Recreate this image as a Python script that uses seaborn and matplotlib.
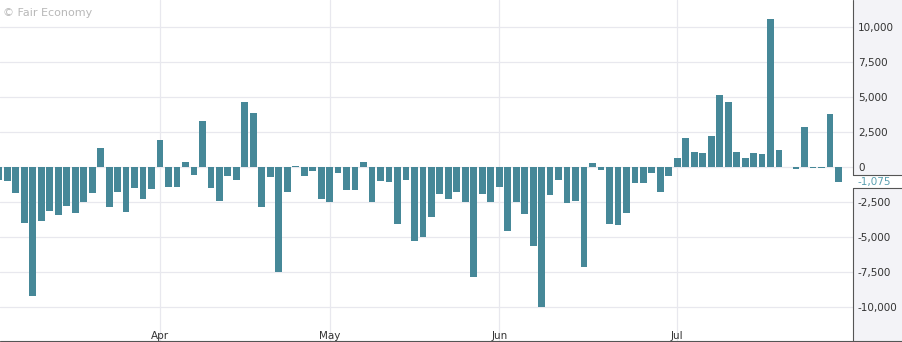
import matplotlib
matplotlib.use("Agg")
import matplotlib.pyplot as plt
import matplotlib.transforms as mtransforms
from matplotlib.lines import Line2D
from matplotlib.patches import Rectangle
import seaborn as sns
import pandas as pd

# ---- data -------------------------------------------------------------
values = [
    -950, -1000, -1860, -4000, -9210, -3855, -3150, -3460, -2785, -3330,
    -2550, -1880, 1310, -2855, -1830, -3240, -1500, -2330, -1570, 1900,
    -1430, -1430, 330, -600, 3285, -1500, -2475, -670, -950, 4640,
    3810, -2855, -715, -7500, -1810, 40, -640, -285, -2330, -2500,
    -430, -1665, -1665, 330, -2500, -1050, -1120, -4070, -950, -5285,
    -5045, -3620, -1950, -2330, -1810, -2550, -7855, -1950, -2500, -1430,
    -4570, -2500, -3380, -5665, -10040, -2020, -950, -2620, -2430, -7140,
    285, -240, -4095, -4165, -3285, -1190, -1190, -430, -1810, -670,
    640, 2020, 1070, 950, 2190, 5095, 4640, 1020, 640, 950,
    880, 10545, 1165, -30, -140, 2830, -70, -70, 3740, -1075,
]
month_labels = ["Apr", "May", "Jun", "Jul"]
month_first_bar = [19, 39, 59, 80]   # index of the first bar of each month
y_ticks = [-10000, -7500, -5000, -2500, 0, 2500, 5000, 7500, 10000]
watermark = "\u00a9 Fair Economy"

# ---- style ------------------------------------------------------------
BAR = "#468898"
LAST = "#5a9fb0"
GRID = "#e8e8ee"
AXIS = "#555555"
TXT = "#333333"
PANEL = "#f3f3f7"

sns.set_theme(style="white")
plt.rcParams["font.family"] = ["DejaVu Sans"]

W, H = 903, 342
fig = plt.figure(figsize=(W / 100, H / 100), dpi=100)
fig.patch.set_facecolor("white")

ax_right = 853
ax = fig.add_axes([0, 1 / H, ax_right / W, 341 / H])
ax.set_facecolor("white")

df = pd.DataFrame({"i": range(len(values)), "v": values})
sns.barplot(data=df, x="i", y="v", color=BAR, saturation=1, width=0.8,
            edgecolor="none", ax=ax)

ax.set_xlim(0.13, 100.72)
ax.set_ylim(-12450, 11907)
ax.set_xlabel("")
ax.set_ylabel("")

ax.set_xticks(month_first_bar)
ax.set_xticklabels(month_labels)
ax.tick_params(axis="x", length=0, pad=-7.5, labelsize=7.5, labelcolor=TXT)

ax.yaxis.tick_right()
ax.set_yticks(y_ticks)
ax.set_yticklabels([f"{t:,}" for t in y_ticks])
ax.tick_params(axis="y", length=0, pad=3.6, labelsize=7.5, labelcolor=TXT)

ax.grid(True, axis="both", color=GRID, linewidth=0.9)
ax.set_axisbelow(True)
for s in ax.spines.values():
    s.set_visible(False)

# right-hand value panel
xr = ax_right / W
fig.add_artist(Rectangle((xr, 0), 1 - xr, 1, transform=fig.transFigure,
                         facecolor=PANEL, edgecolor="none", zorder=-2))
trans = mtransforms.blended_transform_factory(fig.transFigure, ax.transData)
last = values[-1]
half = 470
fig.add_artist(Rectangle((xr, last - half), 1 - xr, 2 * half, transform=trans,
                         facecolor="white", edgecolor="none", zorder=-1))
lw = 0.8
ytop, ybot = ax.get_ylim()[1], ax.get_ylim()[0]
xl = xr + 0.5 / W
for seg in ([(xl, xl), (ytop, last + half)], [(xl, xl), (last - half, ybot)],
            [(xl, 1), (last + half, last + half)], [(xl, 1), (last - half, last - half)]):
    fig.add_artist(Line2D(seg[0], seg[1], transform=trans, color=AXIS,
                          linewidth=lw, zorder=5, clip_on=False))
fig.add_artist(Line2D([0, 1], [0.6 / H, 0.6 / H], transform=fig.transFigure,
                      color=AXIS, linewidth=lw, zorder=5))
fig.text(858 / W, last, f"{last:,}", transform=trans, color=LAST, fontsize=7.5,
         ha="left", va="center")

fig.text(3 / W, 1 - 13 / H, watermark, color="#b8b8b8", fontsize=8,
         ha="left", va="center")

fig.savefig("out.png", dpi=100)
